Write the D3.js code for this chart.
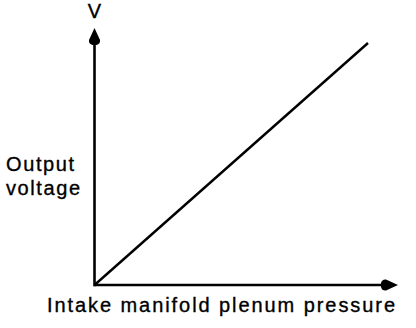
<!DOCTYPE html>
<meta charset="utf-8">
<style>
body { margin: 0; background: #fff; }
text { font-family: "Liberation Sans", Arial, sans-serif; font-size: 20px; fill: #000; stroke: #000; stroke-width: 0.35px; letter-spacing: 1.6px; }
</style>
<svg width="416" height="328"></svg>
<script src="https://d3js.org/d3.v7.min.js"></script>
<script>

// normalised sensor response: output voltage rises linearly with pressure
var pressure = [0, 1];
var voltage = [0, 1];
var yLabel = ["Output", "voltage"];
var xLabel = "Intake manifold plenum pressure";
var unitLabel = "V";

var svg = d3.select("svg");

var x = d3.scaleLinear().domain([0, 1]).range([94.5, 368]);
var y = d3.scaleLinear().domain([0, 1]).range([285, 43]);

// axes end past the data range, into the arrows
var xEnd = 398, yEnd = 28;

svg.append("line")
    .attr("x1", x(0)).attr("y1", y(0))
    .attr("x2", xEnd - 14).attr("y2", y(0))
    .attr("stroke", "#000").attr("stroke-width", 2.6);

svg.append("line")
    .attr("x1", x(0)).attr("y1", y(0) + 1.3)
    .attr("x2", x(0)).attr("y2", yEnd + 14)
    .attr("stroke", "#000").attr("stroke-width", 2.6);

// arrow heads: pointed tip, rounded back
function head(tx, ty, angle) {
  var p = d3.path();
  p.moveTo(0, 0);
  p.lineTo(-12, -5.5);
  p.quadraticCurveTo(-16, -6, -17, -2);
  p.lineTo(-17, 2);
  p.quadraticCurveTo(-16, 6, -12, 5.5);
  p.closePath();
  svg.append("path")
      .attr("d", p.toString())
      .attr("transform", "translate(" + tx + "," + ty + ") rotate(" + angle + ")")
      .attr("fill", "#000");
}
head(xEnd, y(0), 0);
head(x(0), yEnd, -90);

var pts = pressure.map(function(d, i) { return [d, voltage[i]]; });
svg.append("path")
    .datum(pts)
    .attr("fill", "none")
    .attr("stroke", "#000")
    .attr("stroke-width", 2.4)
    .attr("d", d3.line()
        .x(function(d) { return x(d[0]); })
        .y(function(d) { return y(d[1]); }));

svg.append("text")
    .attr("x", x(0)).attr("y", 18)
    .attr("text-anchor", "middle")
    .style("letter-spacing", "0px")
    .text(unitLabel);

svg.selectAll(".ylab")
    .data(yLabel)
  .enter().append("text")
    .attr("class", "ylab")
    .attr("x", 6)
    .attr("y", function(d, i) { return 171 + i * 24; })
    .text(function(d) { return d; });

svg.append("text")
    .attr("x", 47).attr("y", 312)
    .attr("textLength", 348)
    .attr("lengthAdjust", "spacing")
    .style("letter-spacing", "0px")
    .text(xLabel);

</script>
